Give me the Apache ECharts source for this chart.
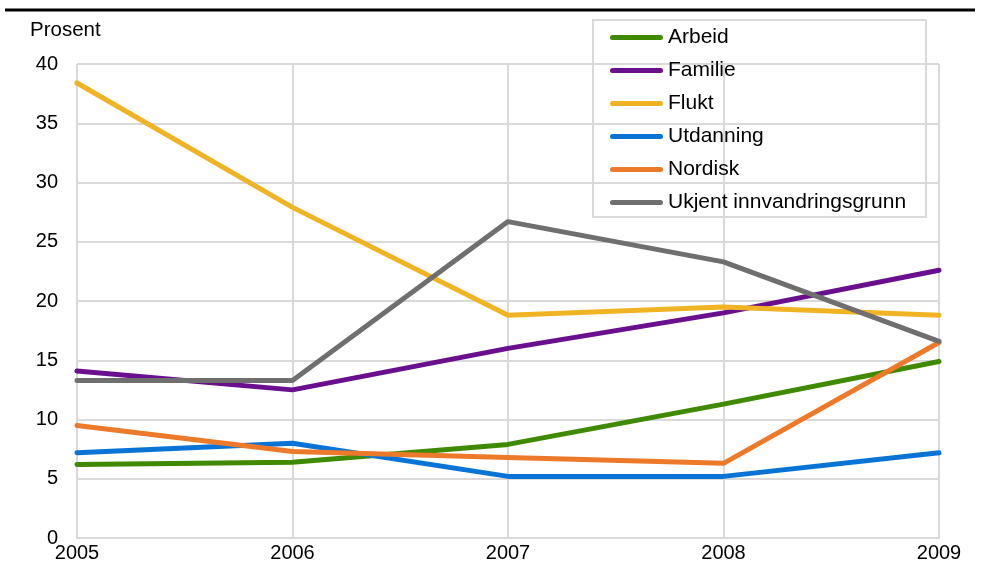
<!DOCTYPE html>
<html><head><meta charset="utf-8">
<script src="https://cdn.jsdelivr.net/npm/echarts@6/dist/echarts.min.js"></script>
<style>html,body{margin:0;padding:0;background:#fff}#c{width:985px;height:567px}</style>
</head><body><div id="c"></div>
<script>
const years = ['2005','2006','2007','2008','2009'];
const arbeid = [6.2, 6.4, 7.9, 11.3, 14.9];
const familie = [14.1, 12.5, 16.0, 19.0, 22.6];
const flukt = [38.4, 27.9, 18.8, 19.5, 18.8];
const utdanning = [7.2, 8.0, 5.2, 5.2, 7.2];
const nordisk = [9.5, 7.3, 6.8, 6.3, 16.5];
const ukjent = [13.3, 13.3, 26.7, 23.3, 16.6];
const seriesNames = ['Arbeid','Familie','Flukt','Utdanning','Nordisk','Ukjent innvandringsgrunn'];
const seriesData = [arbeid, familie, flukt, utdanning, nordisk, ukjent];
const colors = ['#3f8a00','#6a0f8e','#f0b323','#0a73d6','#ed7a2b','#6f6f6f'];

const chart = echarts.init(document.getElementById('c'), null, {renderer:'canvas'});
const font = 'Liberation Sans, Arial, sans-serif';
chart.setOption({
  animation:false,
  textStyle:{fontFamily:font},
  grid:{left:77,right:46,top:64,bottom:29,containLabel:false},
  xAxis:{type:'category',data:years,boundaryGap:false,
    axisLine:{lineStyle:{color:'#d9d9d9',width:2}},
    axisTick:{show:false},
    axisLabel:{color:'#000',fontSize:20,margin:5,fontFamily:font},
    splitLine:{show:true,lineStyle:{color:'#d9d9d9',width:2}}},
  yAxis:{type:'value',min:0,max:40,interval:5,
    name:'Prosent',nameLocation:'end',nameGap:0,
    nameTextStyle:{color:'#000',fontSize:20.5,align:'left',verticalAlign:'bottom',padding:[0,0,23,-47],fontFamily:font},
    axisLine:{show:false},axisTick:{show:false},
    axisLabel:{color:'#000',fontSize:20,margin:19,fontFamily:font},
    splitLine:{lineStyle:{color:'#d9d9d9',width:2}}},
  legend:{orient:'vertical',left:610,top:27,padding:0,itemWidth:53,itemHeight:5,itemGap:12,
    icon:'path://M2.5,0 L50.5,0 A2.5,2.5 0 0 1 50.5,5 L2.5,5 A2.5,2.5 0 0 1 2.5,0 Z',
    textStyle:{color:'#000',fontSize:21,lineHeight:21,fontFamily:font},
    data:seriesNames},
  graphic:[
    {type:'rect',shape:{x:593,y:20,width:333,height:197},style:{fill:'rgba(0,0,0,0)',stroke:'#d9d9d9',lineWidth:2},z:100},
    {type:'line',shape:{x1:5,y1:10,x2:975,y2:10},style:{stroke:'#000',lineWidth:3}}
  ],
  series: seriesNames.map((n,i)=>({
    name:n,type:'line',data:seriesData[i],symbol:'none',
    itemStyle:{color:colors[i]},
    lineStyle:{color:colors[i],width:5,cap:'round'}
  }))
});
</script></body></html>
